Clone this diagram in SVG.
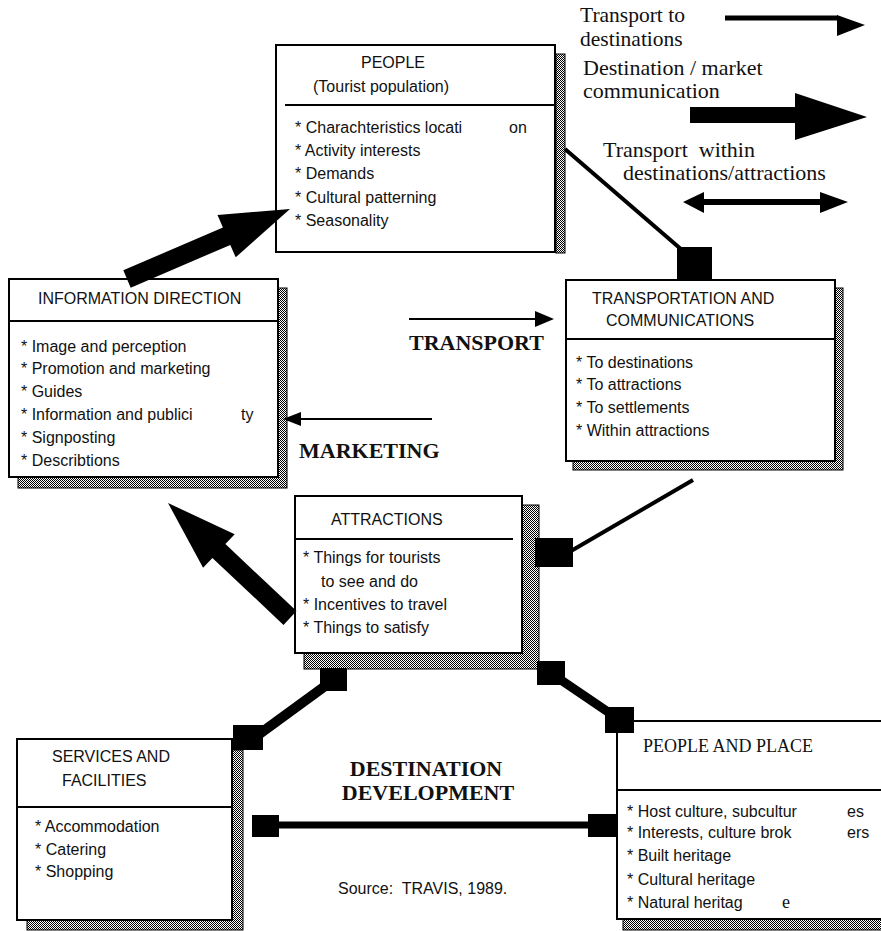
<svg xmlns="http://www.w3.org/2000/svg" width="881" height="931" viewBox="0 0 881 931">
<defs>
<pattern id="dither" width="2" height="2" patternUnits="userSpaceOnUse">
<rect width="2" height="2" fill="#fff"/>
<rect width="1" height="1" fill="#000"/>
<rect x="1" y="1" width="1" height="1" fill="#000"/>
</pattern>
</defs>
<style>
.box{fill:#fff;stroke:#000;stroke-width:2}
.shadow{fill:url(#dither);stroke:#000;stroke-width:1}
.div{stroke:#000;stroke-width:2}
.t{font-family:"Liberation Sans",Arial,sans-serif;font-size:16px;fill:#111}
.tr{font-family:"Liberation Serif","Times New Roman",serif;font-size:18px;fill:#111}
.lg{font-family:"Liberation Serif","Times New Roman",serif;font-size:22px;fill:#111;white-space:pre}
.bold{font-family:"Liberation Serif","Times New Roman",serif;font-size:22px;font-weight:bold;fill:#111}
.blk{fill:#000}
.ln{stroke:#000;fill:none}
</style>
<rect width="881" height="931" fill="#fff"/>

<g id="legend">
<text class="lg" x="580" y="22" style="font-size:21.5px">Transport to</text>
<text class="lg" x="580" y="46" style="font-size:21.5px">destinations</text>
<line class="ln" x1="725" y1="18" x2="838" y2="18" stroke-width="5"/>
<polygon class="blk" points="837,15 865,25 837,36"/>
<text class="lg" x="583" y="75">Destination / market</text>
<text class="lg" x="583" y="98">communication</text>
<rect class="blk" x="690" y="107" width="106" height="16"/>
<polygon class="blk" points="795,93 867,117 795,140"/>
<text class="lg" x="603" y="157">Transport  within</text>
<text class="lg" x="623" y="180">destinations/attractions</text>
<rect class="blk" x="703" y="199" width="118" height="6"/>
<polygon class="blk" points="683,202 704,192 704,213"/>
<polygon class="blk" points="848,202 820,192 820,213"/>
</g>

<g id="people">
<rect class="shadow" x="556" y="54" width="9" height="199"/>
<rect class="box" x="276" y="45" width="279" height="207"/>
<line class="div" x1="285" y1="105" x2="555" y2="105"/>
<text class="t" x="361" y="68">PEOPLE</text>
<text class="t" x="313" y="92">(Tourist population)</text>
<text class="t" x="295" y="133">* Charachteristics locati</text>
<text class="t" x="509" y="133">on</text>
<text class="t" x="295" y="156">* Activity interests</text>
<text class="t" x="295" y="179">* Demands</text>
<text class="t" x="295" y="203">* Cultural patterning</text>
<text class="t" x="295" y="226">* Seasonality</text>
</g>

<g id="information-direction">
<rect class="shadow" x="18" y="288" width="269" height="200"/>
<rect class="box" x="9" y="279" width="269" height="198"/>
<line class="div" x1="9" y1="321" x2="278" y2="321"/>
<text class="t" x="38" y="304">INFORMATION DIRECTION</text>
<text class="t" x="21" y="352">* Image and perception</text>
<text class="t" x="21" y="374">* Promotion and marketing</text>
<text class="t" x="21" y="397">* Guides</text>
<text class="t" x="21" y="420">* Information and publici</text>
<text class="t" x="241" y="420">ty</text>
<text class="t" x="21" y="443">* Signposting</text>
<text class="t" x="21" y="466">* Describtions</text>
</g>

<g id="transportation">
<rect class="shadow" x="573" y="288" width="270" height="182"/>
<rect class="box" x="566" y="280" width="269" height="181"/>
<line class="div" x1="566" y1="339" x2="835" y2="339"/>
<text class="t" x="592" y="304">TRANSPORTATION AND</text>
<text class="t" x="606" y="326">COMMUNICATIONS</text>
<text class="t" x="576" y="368">* To destinations</text>
<text class="t" x="576" y="390">* To attractions</text>
<text class="t" x="576" y="413">* To settlements</text>
<text class="t" x="576" y="436">* Within attractions</text>
</g>

<g id="attractions">
<rect class="shadow" x="304" y="505" width="235" height="164"/>
<rect class="box" x="295" y="496" width="227" height="157"/>
<line class="div" x1="294" y1="539" x2="513" y2="539"/>
<text class="t" x="331" y="525">ATTRACTIONS</text>
<text class="t" x="303" y="563">* Things for tourists</text>
<text class="t" x="321" y="587">to see and do</text>
<text class="t" x="303" y="610">* Incentives to travel</text>
<text class="t" x="303" y="633">* Things to satisfy</text>
</g>

<g id="services">
<rect class="shadow" x="27" y="750" width="216" height="180"/>
<rect class="box" x="17" y="739" width="215" height="181"/>
<line class="div" x1="17" y1="807" x2="232" y2="807"/>
<text class="t" x="52" y="762">SERVICES AND</text>
<text class="t" x="62" y="786">FACILITIES</text>
<text class="t" x="35" y="832">* Accommodation</text>
<text class="t" x="35" y="855">* Catering</text>
<text class="t" x="35" y="877">* Shopping</text>
</g>

<g id="people-and-place">
<rect class="shadow" x="623" y="730" width="300" height="200"/>
<rect class="box" x="617" y="721" width="300" height="198"/>
<line class="div" x1="617" y1="790" x2="881" y2="790"/>
<text class="tr" x="643" y="752">PEOPLE AND PLACE</text>
<text class="t" x="627" y="817">* Host culture, subcultur</text>
<text class="t" x="847" y="817">es</text>
<text class="t" x="627" y="838">* Interests, culture brok</text>
<text class="t" x="847" y="838">ers</text>
<text class="t" x="627" y="861">* Built heritage</text>
<text class="t" x="627" y="885">* Cultural heritage</text>
<text class="t" x="627" y="908">* Natural heritag</text>
<text class="tr" x="782" y="908">e</text>
</g>

<g id="labels">
<text class="bold" x="409" y="350">TRANSPORT</text>
<text class="bold" x="299" y="458">MARKETING</text>
<text class="bold" x="426" y="776" text-anchor="middle">DESTINATION</text>
<text class="bold" x="428" y="800" text-anchor="middle">DEVELOPMENT</text>
<text class="t" x="338" y="894" style="white-space:pre">Source:  TRAVIS, 1989.</text>
</g>

<g id="connectors">
<line class="ln" x1="409" y1="319" x2="540" y2="319" stroke-width="2"/>
<polygon class="blk" points="554,319 535,311 535,327"/>
<line class="ln" x1="300" y1="419" x2="432" y2="419" stroke-width="2"/>
<polygon class="blk" points="283,419 301,412 301,426"/>
<polygon class="blk" points="123.3,270.3 222.9,227.5 217.5,215.1 290,209 235.7,257.3 230.3,244.9 130.7,287.7"/>
<polygon class="blk" points="296.5,611.1 225.4,544.1 234.7,534.3 168,503 203.1,567.7 212.4,557.9 283.5,624.9"/>
<line class="ln" x1="565" y1="149" x2="682" y2="250" stroke-width="4"/>
<rect class="blk" x="677" y="247" width="35" height="34"/>
<rect class="blk" x="535" y="538" width="38" height="29"/>
<line class="ln" x1="571" y1="551" x2="693" y2="480" stroke-width="4"/>
<rect class="blk" x="537" y="661" width="28" height="24"/>
<line class="ln" x1="558" y1="678" x2="614" y2="716" stroke-width="9"/>
<rect class="blk" x="605" y="707" width="29" height="26"/>
<rect class="blk" x="320" y="668" width="27" height="23"/>
<line class="ln" x1="332" y1="681" x2="254" y2="738" stroke-width="10"/>
<rect class="blk" x="233" y="725" width="30" height="25"/>
<rect class="blk" x="252" y="815" width="27" height="22"/>
<line class="ln" x1="277" y1="825" x2="590" y2="825" stroke-width="7"/>
<rect class="blk" x="588" y="814" width="30" height="23"/>
</g>
</svg>
